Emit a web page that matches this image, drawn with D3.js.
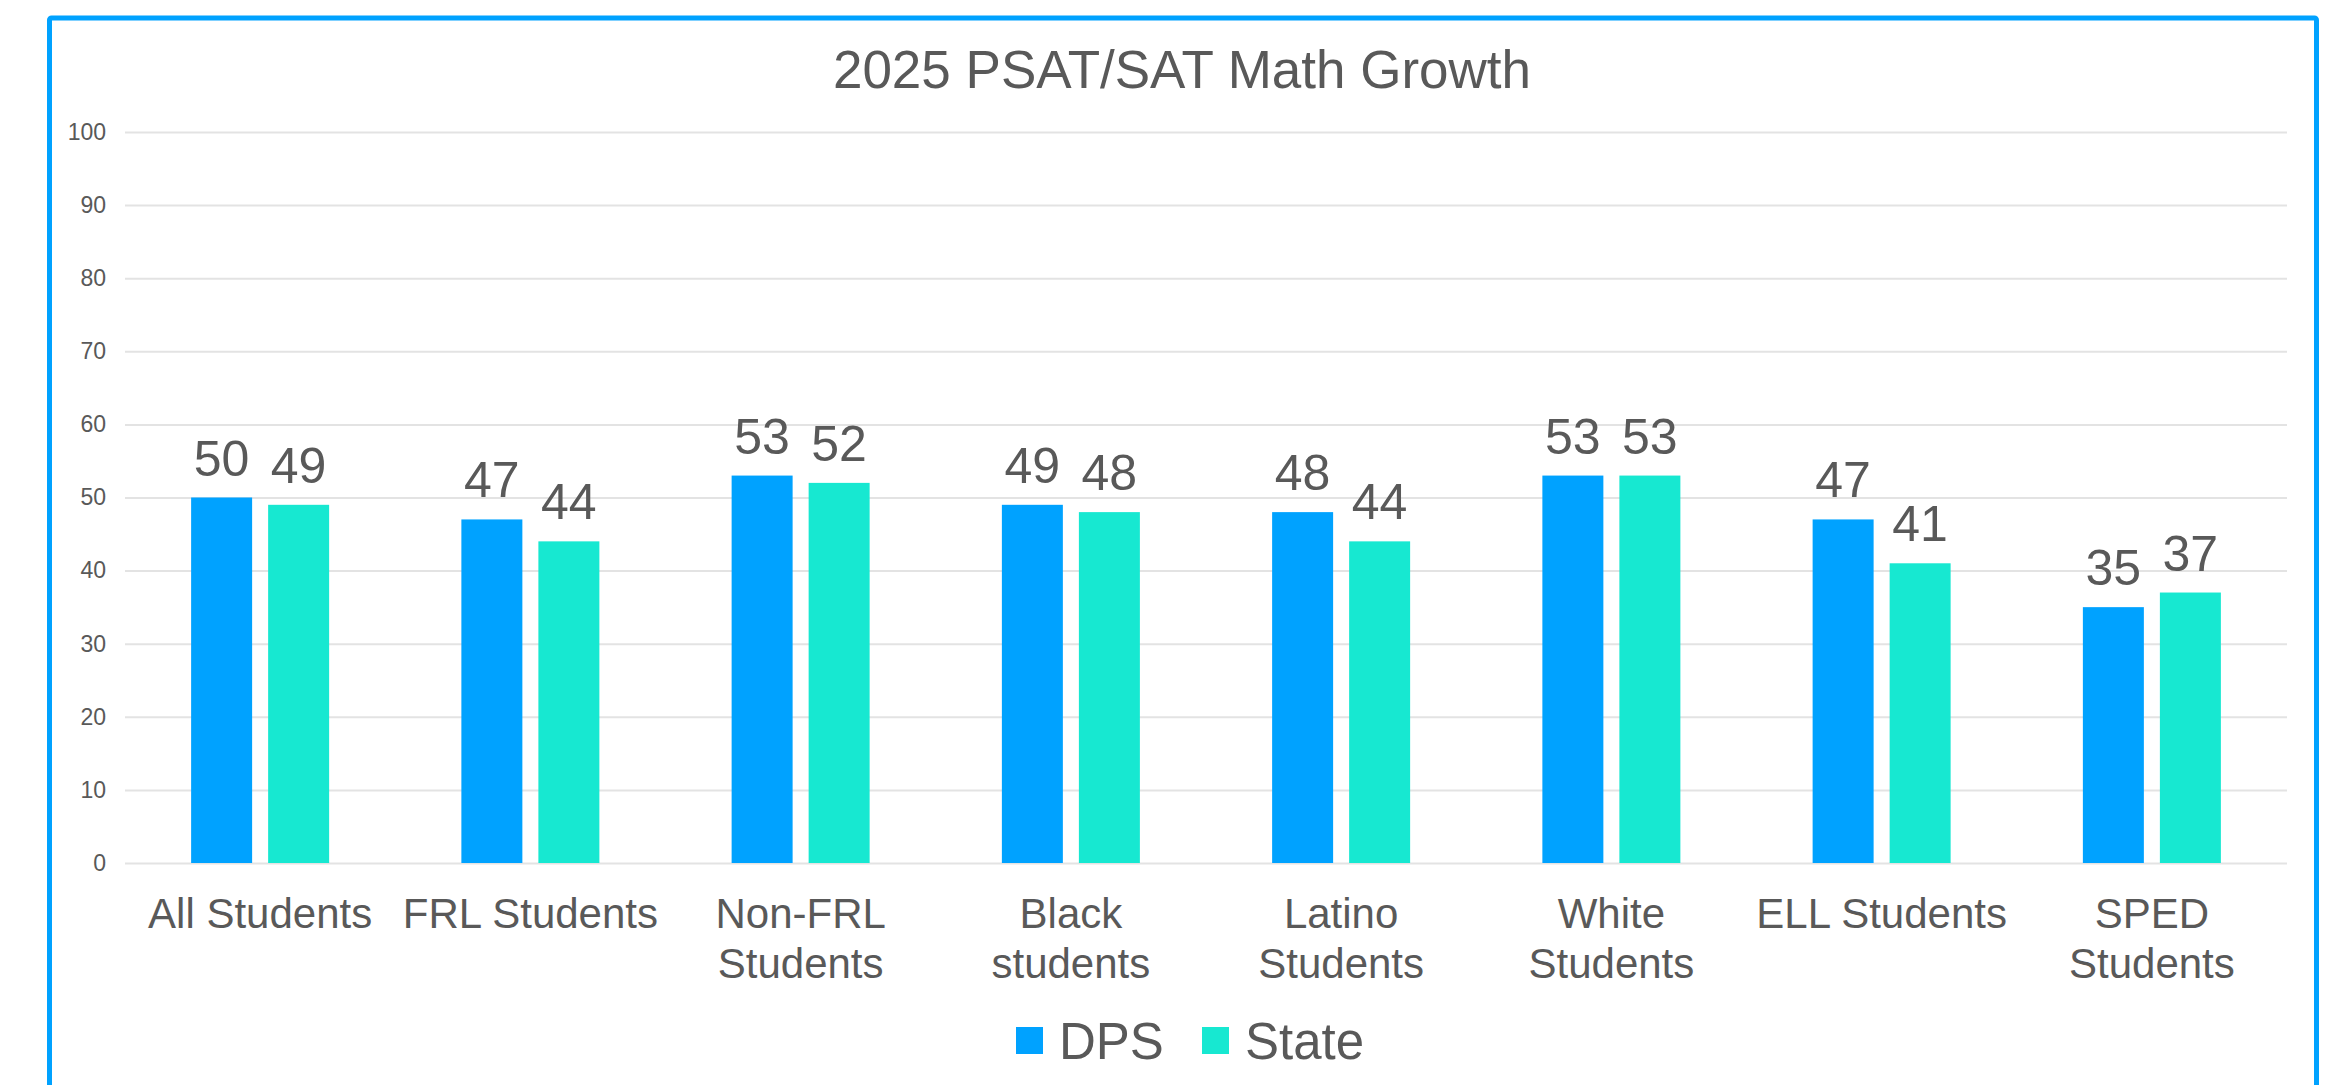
<!DOCTYPE html>
<html>
<head>
<meta charset="utf-8">
<script src="https://cdn.jsdelivr.net/npm/d3@7"></script>
<style>
  html, body { margin: 0; padding: 0; background: #ffffff; }
  svg { display: block; font-family: "Liberation Sans", Arial, sans-serif; }
</style>
</head>
<body>
<div id="chart"></div>
<script>
// 2025 PSAT/SAT Math Growth - grouped bars, DPS vs State
var categories = ['All Students', 'FRL Students', 'Non-FRL Students', 'Black students',
  'Latino Students', 'White Students', 'ELL Students', 'SPED Students'];
var seriesNames = ['DPS', 'State'];
var dpsValues = [50, 47, 53, 49, 48, 53, 47, 35];
var stateValues = [49, 44, 52, 48, 44, 53, 41, 37];
var yTicks = [0, 10, 20, 30, 40, 50, 60, 70, 80, 90, 100];
var chartTitle = '2025 PSAT/SAT Math Growth';

(function(){
  var W = 2337, H = 1085;
  var margin = { top: 132, right: 50, bottom: 222, left: 125 };
  var width = 2287 - margin.left;
  var height = 863 - margin.top;
  var textColor = '#595959';
  var colors = { DPS: '#00a2ff', State: '#17e8d1' };

  var rows = categories.map(function(c, i){
    return { cat: c, DPS: dpsValues[i], State: stateValues[i] };
  });

  var svg = d3.select('#chart').append('svg')
    .attr('width', W)
    .attr('height', H);

  // outer frame (runs off the bottom edge)
  svg.append('rect')
    .attr('x', 49.5).attr('y', 18)
    .attr('width', 2267).attr('height', 1200)
    .attr('rx', 2)
    .attr('fill', 'none')
    .attr('stroke', '#00a2ff')
    .attr('stroke-width', 5);

  svg.append('text')
    .attr('x', 1182)
    .attr('y', 88)
    .attr('text-anchor', 'middle')
    .style('font-size', '53px')
    .style('fill', textColor)
    .text(chartTitle);

  var g = svg.append('g').attr('transform', 'translate(' + margin.left + ',' + margin.top + ')');

  var x0 = d3.scaleBand().domain(categories).range([0, width]).padding(0);
  var groupW = 138;
  var x1 = d3.scaleBand().domain(seriesNames)
    .range([(x0.bandwidth() - groupW) / 2, (x0.bandwidth() + groupW) / 2])
    .paddingInner(0.208);
  var y = d3.scaleLinear().domain([0, 100]).range([height, 0]);

  // gridlines
  var grid = g.append('g')
    .call(d3.axisLeft(y).tickValues(yTicks).tickSize(-width).tickFormat(''));
  grid.select('.domain').remove();
  grid.selectAll('line').attr('stroke', '#e3e3e3').attr('stroke-width', 2);

  // y labels
  var ya = g.append('g')
    .call(d3.axisLeft(y).tickValues(yTicks).tickSize(0).tickPadding(19));
  ya.select('.domain').remove();
  ya.selectAll('text')
    .style('font-size', '23px')
    .style('font-family', '"Liberation Sans", Arial, sans-serif')
    .style('fill', textColor);

  // bars
  var groups = g.selectAll('.grp')
    .data(rows)
    .enter().append('g')
    .attr('class', 'grp')
    .attr('transform', function(d){ return 'translate(' + x0(d.cat) + ',0)'; });

  groups.selectAll('rect')
    .data(function(d){ return seriesNames.map(function(s){ return { key: s, value: d[s] }; }); })
    .enter().append('rect')
    .attr('x', function(d){ return x1(d.key); })
    .attr('y', function(d){ return y(d.value); })
    .attr('width', x1.bandwidth())
    .attr('height', function(d){ return height - y(d.value); })
    .attr('fill', function(d){ return colors[d.key]; });

  // value labels
  groups.selectAll('.val')
    .data(function(d){ return seriesNames.map(function(s){ return { key: s, value: d[s] }; }); })
    .enter().append('text')
    .attr('class', 'val')
    .attr('x', function(d){ return x1(d.key) + x1.bandwidth() / 2; })
    .attr('y', function(d){ return y(d.value) - 22; })
    .attr('text-anchor', 'middle')
    .style('font-size', '50px')
    .style('fill', textColor)
    .text(function(d){ return d.value; });

  // x labels, wrapped when wider than the band
  var xa = g.append('g')
    .attr('transform', 'translate(0,' + height + ')')
    .call(d3.axisBottom(x0).tickSize(0).tickFormat(''));
  xa.select('.domain').remove();
  xa.selectAll('.tick').each(function(cat){
    var t = d3.select(this).append('text')
      .attr('y', 65)
      .attr('text-anchor', 'middle')
      .style('font-size', '42px')
      .style('font-family', '"Liberation Sans", Arial, sans-serif')
      .style('fill', textColor)
      .text(cat);
    if (t.node().getComputedTextLength() > x0.bandwidth() - 4) {
      var words = cat.split(' ');
      t.text(null);
      t.append('tspan').attr('x', 0).text(words[0]);
      t.append('tspan').attr('x', 0).attr('dy', 50).text(words.slice(1).join(' '));
    }
  });

  // legend
  var legend = svg.append('g').attr('transform', 'translate(1016,1027)');
  var legX = [0, 186];
  seriesNames.forEach(function(s, i){
    var lg = legend.append('g').attr('transform', 'translate(' + legX[i] + ',0)');
    lg.append('rect').attr('width', 27).attr('height', 27).attr('fill', colors[s]);
    lg.append('text')
      .attr('x', 43).attr('y', 32)
      .style('font-size', '51px')
      .style('fill', textColor)
      .text(s);
  });
})();
</script>
</body>
</html>
